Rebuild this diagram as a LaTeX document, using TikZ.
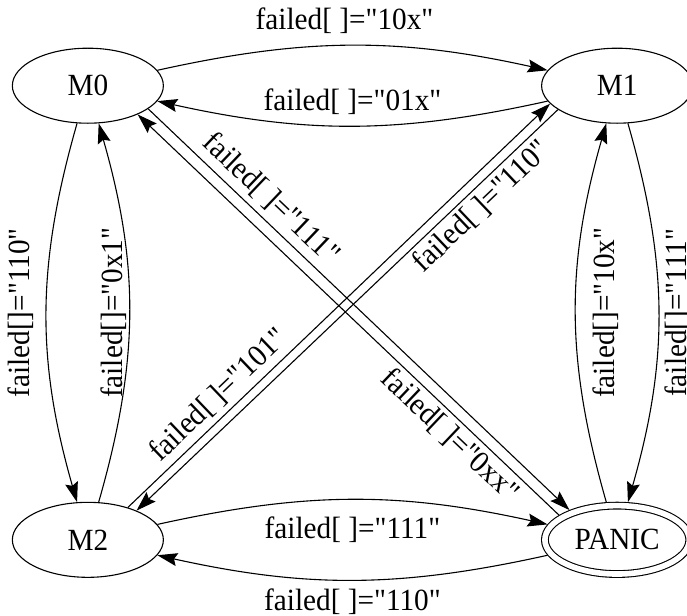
\documentclass[tikz,border=0pt]{standalone}
\usepackage{fontspec}
\setmainfont{Liberation Serif}[Ligatures=TeXOff,FakeStretch=0.95]
\usetikzlibrary{shapes,arrows.meta}
\pgfdeclarelayer{edgelayer}
\pgfdeclarelayer{nodelayer}
\pgfsetlayers{edgelayer,nodelayer,main}
\tikzset{font=\fontsize{15.4}{18}\selectfont}
\tikzstyle{modestate}=[ellipse,draw,line width=0.55pt,minimum width=75.5pt,minimum height=37.5pt,inner sep=0pt]
\tikzstyle{panicstate}=[modestate,double,double distance=2.8pt,minimum width=72.2pt,minimum height=34.2pt,outer sep=1.95pt]
\tikzstyle{trans}=[draw,line width=0.55pt,-{Stealth[length=10pt,width=6.5pt,inset=1.5pt]}]
\tikzstyle{lbl}=[inner sep=2.5pt]

\begin{document}
\begin{tikzpicture}
	\useasboundingbox (-6.194,-5.311) rectangle (5.878,5.496);
	\begin{pgfonlayer}{nodelayer}
		\node [style=modestate] (0) at (-4.65, 3.99) {M0};
		\node [style=modestate] (1) at (4.65, 3.99) {M1};
		\node [style=modestate] (2) at (-4.65, -3.99) {M2};
		\node [style=panicstate] (3) at (4.65, -3.99) {PANIC};
	\end{pgfonlayer}
	\begin{pgfonlayer}{edgelayer}
		\draw [style=trans] (0) to [bend left=12.5] node [style=lbl, above, inner sep=5.5pt, xshift=-4pt] {failed[ ]="10x"} (1);
		\draw [style=trans] (1) to [bend left=12.5] node [style=lbl, above, inner sep=5.5pt] {failed[ ]="01x"} (0);
		\draw [style=trans] (2) to [bend left=12.5] node [style=lbl, below, inner sep=8.5pt] {failed[ ]="111"} (3);
		\draw [style=trans] (3) to [bend left=12.5] node [style=lbl, below, inner sep=4pt] {failed[ ]="110"} (2);
		\draw [style=trans] (0) to [bend right=16] node [style=lbl, rotate=90, anchor=south, inner sep=6pt] {failed[]="110"} (2);
		\draw [style=trans] (2) to [bend right=16] node [style=lbl, rotate=90, anchor=south, inner sep=1pt] {failed[]="0x1"} (0);
		\draw [style=trans] (3) to [bend left=16] node [style=lbl, rotate=90, anchor=north, inner sep=8pt] {failed[]="10x"} (1);
		\draw [style=trans] (1) to [bend left=16] node [style=lbl, rotate=90, anchor=north, inner sep=3pt] {failed[]="111"} (3);
		\draw [style=trans] (0.-21) to node [style=lbl, sloped, above, pos=0.26, inner sep=3pt] {failed[ ]="111"} (3.148);
		\draw [style=trans] (3.157) to node [style=lbl, sloped, below, pos=0.23, inner sep=2pt] {failed[ ]="0xx"} (0.-30);
		\draw [style=trans] (2.39) to node [style=lbl, sloped, above, pos=0.245] {failed[ ]="101"} (1.195);
		\draw [style=trans] (1.202) to node [style=lbl, sloped, below, pos=0.21, inner sep=2pt] {failed[ ]="110"} (2.31);
	\end{pgfonlayer}
\end{tikzpicture}
\end{document}
